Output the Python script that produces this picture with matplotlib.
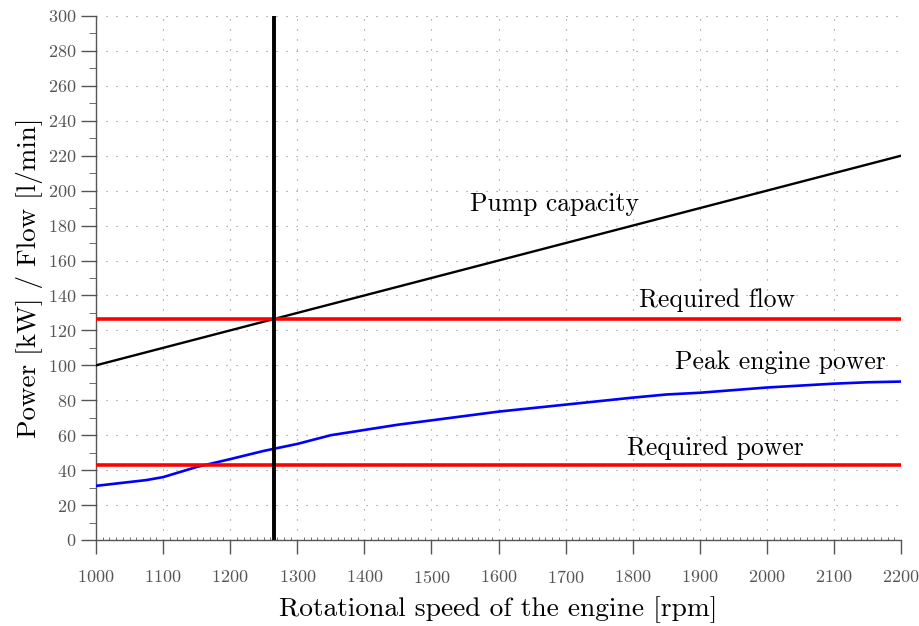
import numpy as np
import matplotlib
matplotlib.use('Agg')
import matplotlib.pyplot as plt
from matplotlib.ticker import MultipleLocator

plt.rcParams['font.family'] = 'cmr10'
plt.rcParams['mathtext.fontset'] = 'cm'
plt.rcParams['axes.formatter.use_mathtext'] = True

# engine speed range
rpm_range = [1000, 2200]

# pump capacity (straight line)
pump_rpm = [1000, 2200]
pump_flow = [100, 220]

# peak engine power curve
power_rpm = [1000, 1075, 1100, 1150, 1200, 1250, 1300, 1350, 1400, 1450, 1500,
             1600, 1700, 1800, 1850, 1900, 2000, 2100, 2150, 2200]
power_kw = [31, 34.3, 36, 41.8, 46.3, 51, 55, 60, 63, 66, 68.5,
            73.5, 77.5, 81.5, 83.3, 84.3, 87.3, 89.5, 90.3, 90.7]

required_flow = 126.5
required_power = 42.7
operating_rpm = 1265

labels = ['Pump capacity', 'Required flow', 'Peak engine power', 'Required power']
label_pos = [(1684, 192.5), (1926, 137.5), (2020, 102), (1924, 52.5)]

fig = plt.figure(figsize=(9.19, 6.26), dpi=100)
ax = fig.add_axes([96/919, 86/626, 805/919, 524/626])

ax.plot(pump_rpm, pump_flow, color='black', lw=1.7, zorder=3)
ax.plot(power_rpm, power_kw, color='blue', lw=1.9, zorder=3)
ax.plot(rpm_range, [required_flow]*2, color='red', lw=2.6, zorder=4)
ax.plot(rpm_range, [required_power]*2, color='red', lw=2.6, zorder=4)
ax.plot([operating_rpm]*2, [0, 300], color='black', lw=2.8, zorder=5)

for txt, (x, y) in zip(labels, label_pos):
    ax.text(x, y, txt, fontsize=18.5, ha='center', va='center', zorder=6)

ax.set_xlim(1000, 2200)
ax.set_ylim(0, 300)
ax.xaxis.set_major_locator(MultipleLocator(100))
ax.xaxis.set_minor_locator(MultipleLocator(10))
ax.yaxis.set_major_locator(MultipleLocator(20))
ax.yaxis.set_minor_locator(MultipleLocator(10))

for s in ['top', 'right']:
    ax.spines[s].set_visible(False)
for s in ['left', 'bottom']:
    ax.spines[s].set_color('#555555')
    ax.spines[s].set_linewidth(1.0)

ax.tick_params(axis='both', which='major', colors='#555555', labelsize=13, width=1.0)
ax.tick_params(axis='x', which='major', direction='out', length=10, pad=11)
ax.tick_params(axis='x', which='minor', direction='in', length=2, color='#555555')
ax.tick_params(axis='y', which='major', direction='out', length=11, pad=3)
ax.tick_params(axis='y', which='minor', direction='out', length=5, color='#555555')

ax.grid(True, which='major', linestyle=(0, (1, 8)), color='#888888', linewidth=0.8)

ax.set_xlabel('Rotational speed of the engine [rpm]', fontsize=19.8, labelpad=7)
ax.set_ylabel('Power [kW] / Flow [l/min]', fontsize=19.5, labelpad=4)

fig.savefig('out.png', dpi=100)
